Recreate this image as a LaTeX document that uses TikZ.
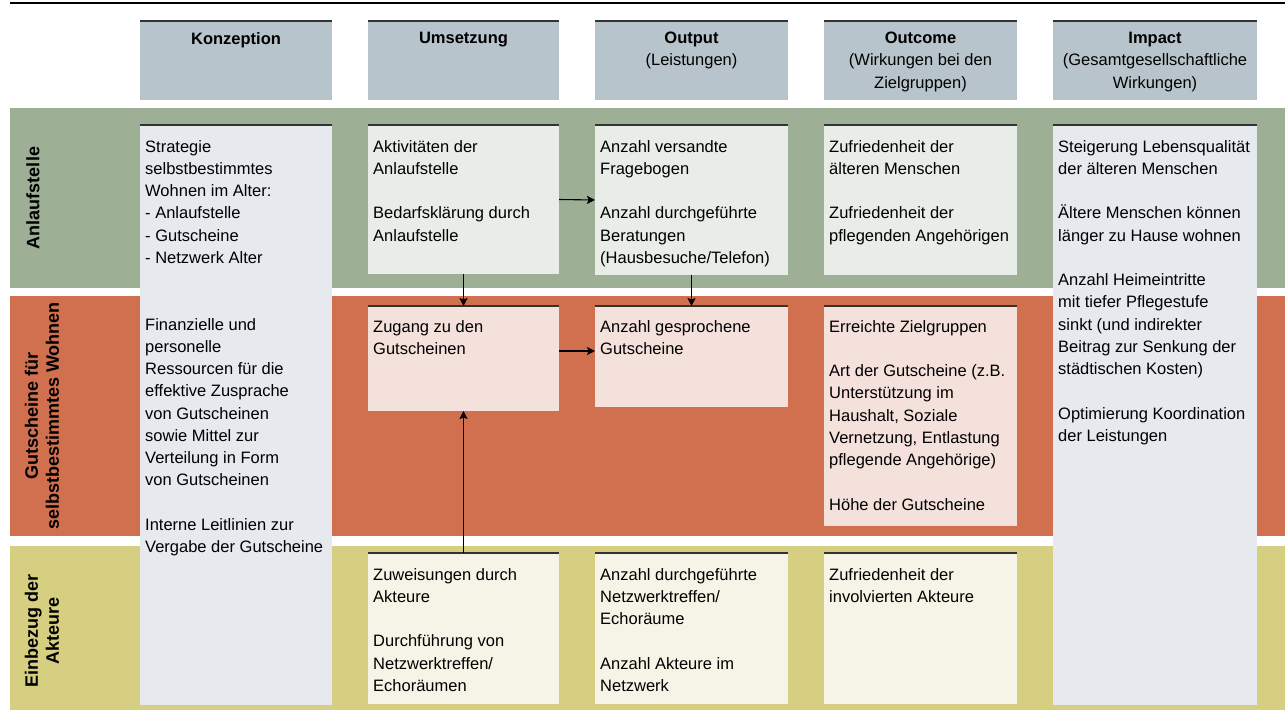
\documentclass[tikz,border=0pt]{standalone}
\usepackage{fontspec}
\setmainfont{Liberation Sans}
\usetikzlibrary{arrows.meta}

\definecolor{hdrgray}{HTML}{B8C4CB}
\definecolor{bandgreen}{HTML}{9DB096}
\definecolor{boxgreen}{HTML}{E9EDE8}
\definecolor{bandred}{HTML}{D0704F}
\definecolor{boxred}{HTML}{F5E1DB}
\definecolor{bandyellow}{HTML}{D6CE80}
\definecolor{boxyellow}{HTML}{F6F4E6}
\definecolor{boxgray}{HTML}{E6E9ED}

\tikzset{
  box/.style={rectangle, anchor=north west, inner sep=0pt, outer sep=0pt, draw=none},
  txt/.style={anchor=north west, inner sep=0pt, align=left,
    font=\fontsize{16.5}{22.25}\selectfont},
  htxt/.style={anchor=north, inner sep=0pt, align=center,
    font=\fontsize{16.5}{22.25}\selectfont},
  lbl/.style={rotate=90, align=center, inner sep=0pt,
    font=\fontsize{18}{21}\selectfont\bfseries},
  topline/.style={draw=black!80, line width=1.5pt},
  arr/.style={-{Stealth[length=8pt, width=8pt, inset=1.5pt]}, line width=1.1pt}
}

\begin{document}
\begin{tikzpicture}[x=1pt, y=-1pt]
    \useasboundingbox (0,0) rectangle (1285,711);
    \draw[line width=1.5pt] (10,3) -- (1285,3);

    % bands
    \fill[bandgreen] (10,108) rectangle (1285,288);
    \fill[bandred] (10,296) rectangle (1285,536);
    \fill[bandyellow] (10,546) rectangle (1285,710);
    \node[lbl] (lA) at (33,198) {Anlaufstelle};
    \node[lbl] (lG) at (42,416) {Gutscheine für\\selbstbestimmtes Wohnen};
    \node[lbl] (lE) at (42,631) {Einbezug der\\Akteure};

    % header row
    \node[box, fill=hdrgray, minimum width=192pt, minimum height=79pt] (hK) at (140,21) {};
    \node[box, fill=hdrgray, minimum width=191pt, minimum height=79pt] (hU) at (368,21) {};
    \node[box, fill=hdrgray, minimum width=193pt, minimum height=79pt] (hO) at (595,21) {};
    \node[box, fill=hdrgray, minimum width=193pt, minimum height=79pt] (hC) at (824,21) {};
    \node[box, fill=hdrgray, minimum width=204pt, minimum height=79pt] (hI) at (1053,21) {};
    \node[htxt] (thK) at ([yshift=-11pt]hK.north) {\textbf{Konzeption}};
    \node[htxt] (thU) at ([yshift=-11pt]hU.north) {\textbf{Umsetzung}};
    \node[htxt] (thO) at ([yshift=-11pt]hO.north) {\textbf{Output}\\(Leistungen)};
    \node[htxt] (thC) at ([yshift=-11pt]hC.north) {\textbf{Outcome}\\(Wirkungen bei den\\Zielgruppen)};
    \node[htxt] (thI) at ([yshift=-11pt]hI.north) {\textbf{Impact}\\(Gesamtgesellschaftliche\\Wirkungen)};

    % long boxes
    \node[box, fill=boxgray, minimum width=192pt, minimum height=580pt] (K) at (140,125) {};
    \node[box, fill=boxgray, minimum width=204pt, minimum height=580pt] (I) at (1053,125) {};
    \node[txt] (tK) at ([xshift=5pt, yshift=-15pt]K.north west) {Strategie\\selbstbestimmtes\\Wohnen im Alter:\\- Anlaufstelle\\- Gutscheine\\- Netzwerk Alter\\[44.5pt]Finanzielle und\\personelle\\Ressourcen für die\\effektive Zusprache\\von Gutscheinen\\sowie Mittel zur\\Verteilung in Form\\von Gutscheinen\\[22.25pt]Interne Leitlinien zur\\Vergabe der Gutscheine};
    \node[txt] (tI) at ([xshift=5pt, yshift=-15pt]I.north west) {Steigerung Lebensqualität\\der älteren Menschen\\[22.25pt]Ältere Menschen können\\länger zu Hause wohnen\\[22.25pt]Anzahl Heimeintritte\\mit tiefer Pflegestufe\\sinkt (und indirekter\\Beitrag zur Senkung der\\städtischen Kosten)\\[22.25pt]Optimierung Koordination\\der Leistungen};

    % Anlaufstelle
    \node[box, fill=boxgreen, minimum width=191pt, minimum height=149pt] (U1) at (368,125) {};
    \node[box, fill=boxgreen, minimum width=193pt, minimum height=150pt] (O1) at (595,125) {};
    \node[box, fill=boxgreen, minimum width=193pt, minimum height=150pt] (C1) at (824,125) {};
    \node[txt] (tU1) at ([xshift=5pt, yshift=-15pt]U1.north west) {Aktivitäten der\\Anlaufstelle\\[22.25pt]Bedarfsklärung durch\\Anlaufstelle};
    \node[txt] (tO1) at ([xshift=5pt, yshift=-15pt]O1.north west) {Anzahl versandte\\Fragebogen\\[22.25pt]Anzahl durchgeführte\\Beratungen\\(Hausbesuche/Telefon)};
    \node[txt] (tC1) at ([xshift=5pt, yshift=-15pt]C1.north west) {Zufriedenheit der\\älteren Menschen\\[22.25pt]Zufriedenheit der\\pflegenden Angehörigen};

    % Gutscheine
    \node[box, fill=boxred, minimum width=191pt, minimum height=105pt] (U2) at (368,306) {};
    \node[box, fill=boxred, minimum width=193pt, minimum height=101pt] (O2) at (595,306) {};
    \node[box, fill=boxred, minimum width=193pt, minimum height=220pt] (C2) at (824,306) {};
    \node[txt] (tU2) at ([xshift=5pt, yshift=-14pt]U2.north west) {Zugang zu den\\Gutscheinen};
    \node[txt] (tO2) at ([xshift=5pt, yshift=-14pt]O2.north west) {Anzahl gesprochene\\Gutscheine};
    \node[txt] (tC2) at ([xshift=5pt, yshift=-14pt]C2.north west) {Erreichte Zielgruppen\\[22.25pt]Art der Gutscheine (z.B.\\Unterstützung im\\Haushalt, Soziale\\Vernetzung, Entlastung\\pflegende Angehörige)\\[22.25pt]Höhe der Gutscheine};

    % Akteure
    \node[box, fill=boxyellow, minimum width=191pt, minimum height=151pt] (U3) at (368,553) {};
    \node[box, fill=boxyellow, minimum width=193pt, minimum height=151pt] (O3) at (595,553) {};
    \node[box, fill=boxyellow, minimum width=193pt, minimum height=151pt] (C3) at (824,553) {};
    \node[txt] (tU3) at ([xshift=5pt, yshift=-15pt]U3.north west) {Zuweisungen durch\\Akteure\\[22.25pt]Durchführung von\\Netzwerktreffen/\\Echoräumen};
    \node[txt] (tO3) at ([xshift=5pt, yshift=-15pt]O3.north west) {Anzahl durchgeführte\\Netzwerktreffen/\\Echoräume\\[22.25pt]Anzahl Akteure im\\Netzwerk};
    \node[txt] (tC3) at ([xshift=5pt, yshift=-15pt]C3.north west) {Zufriedenheit der\\involvierten Akteure};

    \foreach \n in {hK,hU,hO,hC,hI,K,I,U1,O1,C1,U2,O2,C2,U3,O3,C3}
        \draw[topline] (\n.north west) -- (\n.north east);

    % arrows
    \draw[arr] (U1.east) -- (O1.west);
    \draw[arr] ([yshift=7.5pt]U2.east) -- ([yshift=7.5pt]U2.east -| O2.west);
    \draw[arr] (U1.south) -- (U2.north);
    \draw[arr] (O1.south) -- (O2.north);
    \draw[arr] (U3.north) -- (U2.south);
\end{tikzpicture}
\end{document}
